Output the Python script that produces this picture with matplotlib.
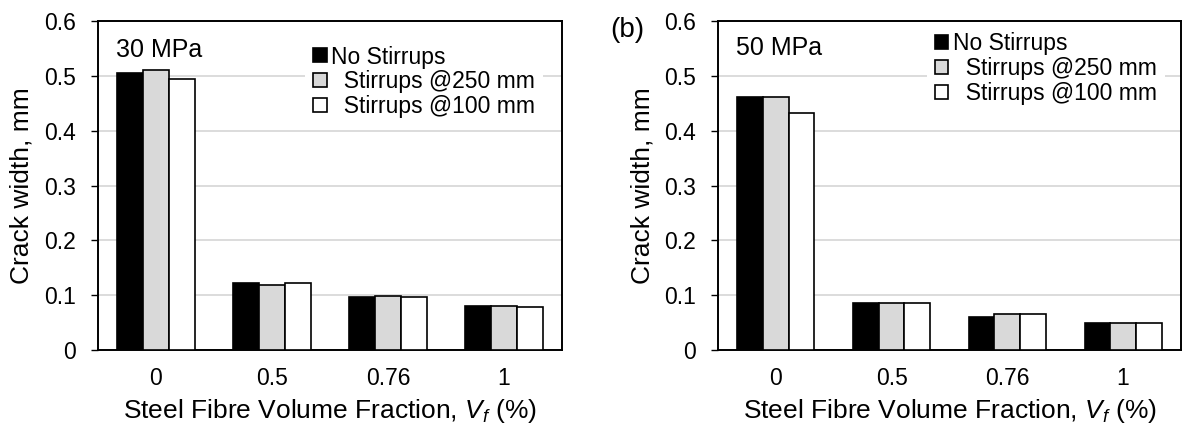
import numpy as np
import matplotlib.pyplot as plt

plt.rcParams["font.family"] = ["Liberation Sans", "DejaVu Sans"]
plt.rcParams["mathtext.fontset"] = "custom"
plt.rcParams["mathtext.rm"] = "Liberation Sans"
plt.rcParams["mathtext.it"] = "Liberation Sans:italic"

# data
categories = ["0", "0.5", "0.76", "1"]
series_labels = ["No Stirrups", "  Stirrups @250 mm", "  Stirrups @100 mm"]
ytick_labels = ["0", "0.1", "0.2", "0.3", "0.4", "0.5", "0.6"]

mpa30_none = [0.505, 0.123, 0.097, 0.080]
mpa30_s250 = [0.511, 0.119, 0.098, 0.080]
mpa30_s100 = [0.495, 0.122, 0.096, 0.079]

mpa50_none = [0.461, 0.085, 0.060, 0.050]
mpa50_s250 = [0.461, 0.085, 0.066, 0.050]
mpa50_s100 = [0.432, 0.085, 0.066, 0.049]

colors = ["black", "#d9d9d9", "white"]
fs_tick = 16.5
fs_leg = 16.5
fs_lab = 19


def panel(ax, series, title, title_y, leg_x, leg_y):
    x = np.arange(len(categories))
    w = 0.222
    handles = []
    for i, vals in enumerate(series):
        b = ax.bar(x + (i - 1) * w, vals, w, color=colors[i],
                   edgecolor="black", linewidth=1.2, zorder=3)
        handles.append(b)
    ax.set_xlim(-0.5, 3.5)
    ax.set_ylim(0, 0.6)
    ax.set_yticks(np.arange(0, 0.61, 0.1))
    ax.set_yticklabels(ytick_labels)
    ax.set_xticks(x)
    ax.set_xticklabels(categories)
    ax.tick_params(axis="x", length=0, pad=12.5, labelsize=fs_tick)
    ax.tick_params(axis="y", length=5, width=1, direction="out", pad=11,
                   labelsize=fs_tick)
    ax.grid(axis="y", color="#d9d9d9", linewidth=1.3, zorder=0)
    for s in ax.spines.values():
        s.set_linewidth(1.4)
        s.set_color("black")
    ax.set_ylabel("Crack width, mm", fontsize=fs_lab)
    ax.yaxis.set_label_coords(-0.138, 0.5)
    ax.set_xlabel("Steel Fibre Volume Fraction, $V_f$ (%)", fontsize=fs_lab)
    ax.xaxis.set_label_coords(0.5, -0.143)
    ax.text(0.039, title_y, title, transform=ax.transAxes, fontsize=18,
            va="center", ha="left")
    leg = ax.legend(handles, series_labels, loc="upper left",
                    bbox_to_anchor=(leg_x, leg_y), fontsize=fs_leg,
                    handlelength=0.57, handleheight=0.57, handletextpad=0.2,
                    labelspacing=0.08, borderpad=0.35, borderaxespad=0,
                    frameon=True, fancybox=False, framealpha=1)
    leg.get_frame().set_edgecolor("none")
    leg.get_frame().set_facecolor("white")
    leg.set_zorder(4)


fig = plt.figure(figsize=(11.82, 4.30), dpi=100)
ax1 = fig.add_axes([0.0829, 0.186, 0.3926, 0.765])
ax2 = fig.add_axes([0.6074, 0.186, 0.3917, 0.765])

panel(ax1, [mpa30_none, mpa30_s250, mpa30_s100], "30 MPa", 0.912, 0.447, 0.95)
panel(ax2, [mpa50_none, mpa50_s250, mpa50_s100], "50 MPa", 0.918, 0.452, 0.99)

fig.text(627 / 1182, 1 - 30 / 430, "(b)", fontsize=20, ha="center", va="center")

fig.savefig("out.png", dpi=100)
